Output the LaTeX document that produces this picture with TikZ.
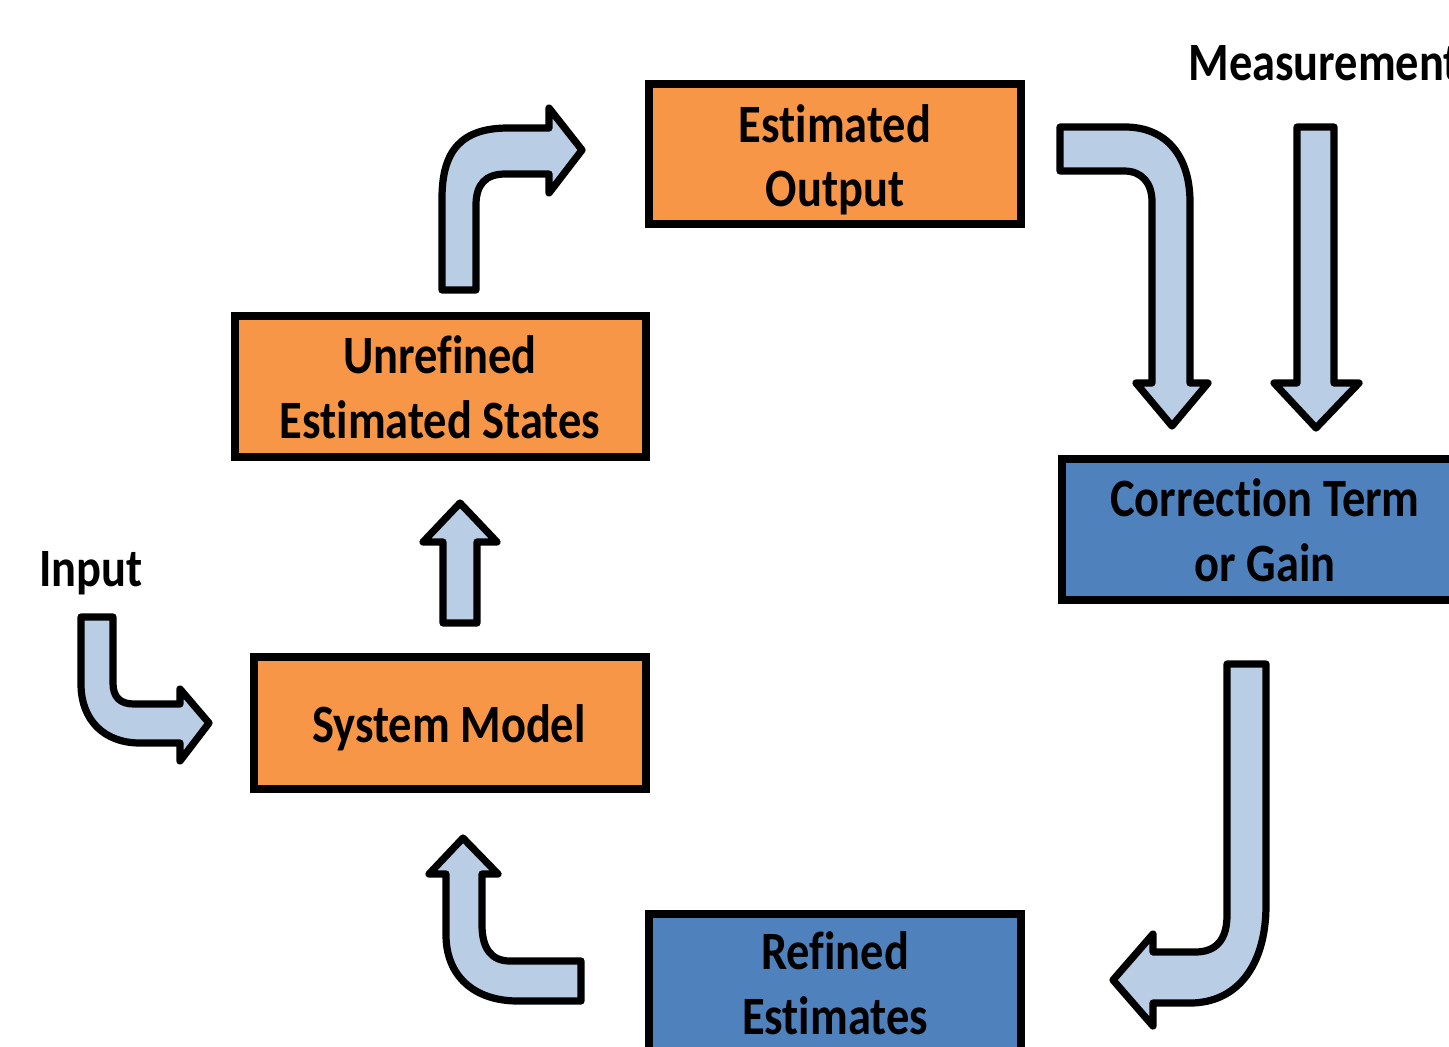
\documentclass[tikz,border=0pt]{standalone}
\usepackage{fontspec}
\setmainfont{Carlito}[FakeStretch=0.86, Ligatures=NoCommon]
\definecolor{boxorange}{HTML}{F79646}
\definecolor{boxblue}{HTML}{4F81BD}
\definecolor{arrowfill}{HTML}{B9CDE5}
\tikzset{
  box/.style={draw=black, line width=4.2pt, minimum width=#1, inner sep=0pt},
  obox/.style={box=#1, fill=boxorange},
  bbox/.style={box=#1, fill=boxblue},
  txt/.style={anchor=base, inner sep=0pt, font=\fontsize{27pt}{32pt}\selectfont\bfseries},
  blockarrow/.style={draw=black, fill=arrowfill, line width=3.6pt, line join=round}
}
\begin{document}
\begin{tikzpicture}[x=0.5pt, y=-0.5pt]
\useasboundingbox (0,0) rectangle (1449,1046);
\clip (0,0) rectangle (1449,1046);

% boxes
\node[obox=186pt, minimum height=70pt] (eo) at (835,154) {};
\node[obox=205.5pt, minimum height=70.5pt] (ues) at (440.5,386.5) {};
\node[obox=196pt, minimum height=66pt] (sm) at (450,723) {};
\node[bbox=204pt, minimum height=70.5pt] (ct) at (1266,529.5) {};
\node[bbox=186pt, minimum height=78pt] (re) at (835,992) {};

% texts
\node[txt] (eo1) at (835,142) {Estimated};
\node[txt] (eo2) at (835,206) {Output};
\node[txt] (ues1) at (440,373) {Unrefined};
\node[txt] (ues2) at (440,438) {Estimated States};
\node[txt] (sm1) at (449,742) {System Model};
\node[txt] (ct1) at (1265,516) {Correction Term};
\node[txt] (ct2) at (1265,581) {or Gain};
\node[txt] (re1) at (835,969) {Refined};
\node[txt] (re2) at (835,1034) {Estimates};
\node[txt, anchor=base west] (meas) at (1188,80) {Measurement};
\node[txt, anchor=base west] (inp) at (39,586) {Input};

% arrow: Unrefined -> Estimated Output
\draw[blockarrow] (442,290) -- (442,198) .. controls (442,150) and (462,128) .. (508,128)
  -- (549,128) -- (549,108) -- (582,150) -- (549,193) -- (549,174) -- (505,174)
  .. controls (486,174) and (476,184) .. (476,205) -- (476,290) -- cycle;

% arrow: Estimated Output -> Correction
\draw[blockarrow] (1060,127) -- (1125,127) .. controls (1167,127) and (1190,157) .. (1190,202)
  -- (1190,383) -- (1208,383) -- (1172,426) -- (1136,383) -- (1152,383) -- (1152,202)
  .. controls (1152,183) and (1142,171) .. (1124,171) -- (1060,171) -- cycle;

% arrow: Measurement -> Correction
\draw[blockarrow] (1297,127) -- (1334,127) -- (1334,383) -- (1359,383) -- (1316,428)
  -- (1274,383) -- (1297,383) -- cycle;

% arrow: Input -> System Model
\draw[blockarrow] (81,617) -- (113,617) -- (113,683) .. controls (113,697) and (120,704) .. (134,704)
  -- (180,704) -- (180,689) -- (209,723) -- (180,761) -- (180,743) -- (140,743)
  .. controls (104,743) and (81,720) .. (81,684) -- cycle;

% arrow: System Model -> Unrefined
\draw[blockarrow] (443,623) -- (443,542) -- (423,542) -- (460,503) -- (497,542) -- (477,542)
  -- (477,623) -- cycle;

% arrow: Refined -> System Model
\draw[blockarrow] (446,874) -- (429,874) -- (463,838) -- (498,874) -- (482,874) -- (482,925)
  .. controls (482,948) and (491,961) .. (510,961) -- (581,961) -- (581,1001) -- (518,1001)
  .. controls (473,1001) and (446,975) .. (446,935) -- cycle;

% arrow: Correction -> Refined
\draw[blockarrow] (1227,664) -- (1266,664) -- (1266,905) .. controls (1266,967) and (1236,1003) .. (1190,1003)
  -- (1153,1003) -- (1153,1026) -- (1113,980) -- (1153,934) -- (1153,952) -- (1195,952)
  .. controls (1216,952) and (1227,940) .. (1227,915) -- cycle;
\end{tikzpicture}
\end{document}
